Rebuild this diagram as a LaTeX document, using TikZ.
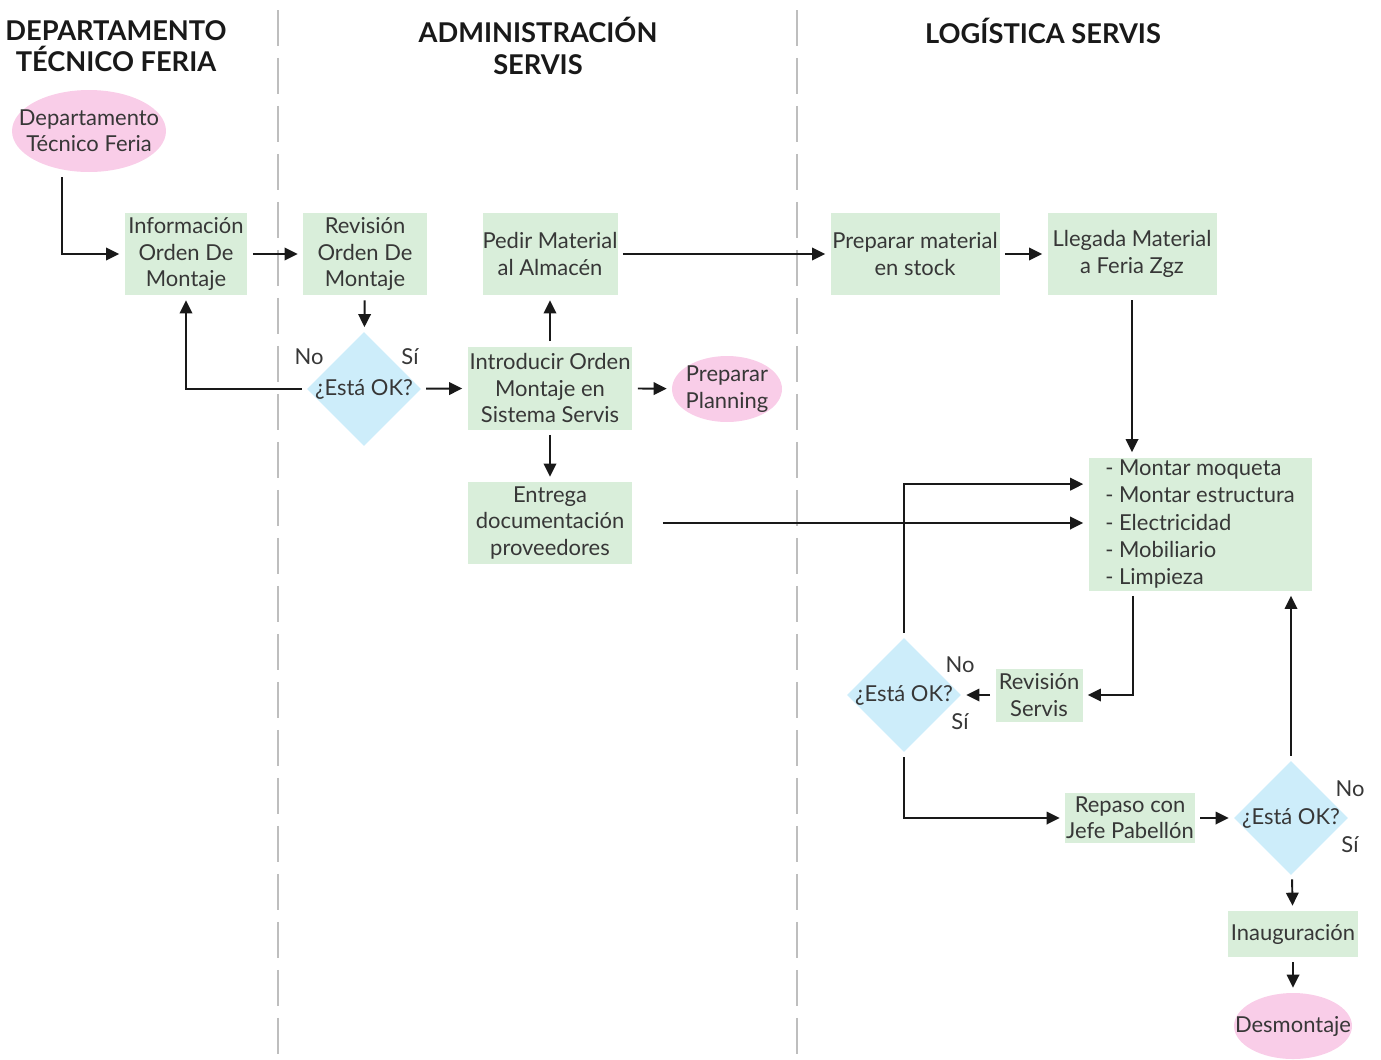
\documentclass[tikz,border=0pt]{standalone}
\usepackage{fontspec}
\setmainfont{Lato}
\usetikzlibrary{shapes.geometric,arrows.meta,calc}
\definecolor{boxgreen}{RGB}{217,238,218}
\definecolor{endpink}{RGB}{249,205,232}
\definecolor{askblue}{RGB}{205,237,250}
\definecolor{txtgray}{RGB}{55,55,55}
\definecolor{lanegray}{RGB}{190,190,190}

\begin{document}
\begin{tikzpicture}[x=0.02cm, y=-0.02cm,
    box/.style={rectangle, fill=boxgreen, align=center, inner sep=0pt, minimum height=1.64cm, font=\fontsize{12.5}{15}\selectfont, text=txtgray},
    terminal/.style={ellipse, fill=endpink, align=center, inner sep=-1cm, font=\fontsize{12.5}{15}\selectfont, text=txtgray},
    decision/.style={diamond, fill=askblue, aspect=1, inner sep=-0.1cm, minimum width=2.28cm, minimum height=2.28cm, font=\fontsize{12.5}{15}\selectfont, text=txtgray},
    lbl/.style={font=\fontsize{12.5}{15}\selectfont, text=txtgray},
    header/.style={align=center, font=\bfseries\fontsize{15.5}{18}\selectfont, text=black!90},
    lane/.style={lanegray, line width=1.2pt, dash pattern=on 0.72cm off 0.24cm},
    arrow/.style={-{Triangle[length=0.26cm, width=0.25cm]}, line width=1.1pt, black!90, shorten >=0.1cm, shorten <=0.1cm}
  ]
    \useasboundingbox (0,0) rectangle (1381,1059);

    % swimlanes
    \draw[lane] (278,10) -- (278,1059);
    \draw[lane] (797,10) -- (797,1059);

    \node[header] at (116,46)  (hdtf)  {DEPARTAMENTO\\TÉCNICO FERIA};
    \node[header] at (538,46)  (hadm)  {ADMINISTRACIÓN\\SERVIS};
    \node[header] at (1043,31) (hlog)  {LOGÍSTICA SERVIS};

    % departamento tecnico
    \node[terminal, minimum width=3.08cm, minimum height=1.64cm] at (89,131) (dtf) {Departamento\\Técnico Feria};
    \node[box, minimum width=2.46cm] at (186,254) (info) {Información\\Orden De\\Montaje};

    % administracion
    \node[box, minimum width=2.48cm] at (365,254) (revision) {Revisión\\Orden De\\Montaje};
    \node[decision] at (364,389) (ok1) {¿Está OK?};
    \node[lbl] at (309,357) (no1) {No};
    \node[lbl] at (410,357) (si1) {Sí};
    \node[box, minimum width=2.66cm] at (550,254) (pedir) {Pedir Material\\al Almacén};
    \node[box, minimum width=3.3cm, minimum height=1.66cm] at (550,388) (intro) {Introducir Orden\\Montaje en\\Sistema Servis};
    \node[terminal, minimum width=2.2cm, minimum height=1.32cm] at (727,389) (planning) {Preparar\\Planning};
    \node[box, minimum width=3.3cm] at (550,523) (entrega) {Entrega\\documentación\\proveedores};

    % logistica
    \node[box, minimum width=3.38cm] at (915,254) (stock) {Preparar material\\en stock};
    \node[box, minimum width=3.38cm] at (1132,254) (llegada) {Llegada Material\\a Feria Zgz};
    \node[box, align=left, minimum width=4.46cm, minimum height=2.66cm, font=\fontsize{12.5}{15.5}\selectfont] at (1200,524) (montar)
      {- Montar moqueta\\- Montar estructura\\- Electricidad\\- Mobiliario\\- Limpieza};
    \node[box, minimum width=1.74cm, minimum height=1.06cm] at (1039,695) (revservis) {Revisión\\Servis};
    \node[decision] at (904,695) (ok2) {¿Está OK?};
    \node[lbl] at (960,665) (no2) {No};
    \node[lbl] at (960,722) (si2) {Sí};
    \node[box, minimum width=2.6cm, minimum height=1.0cm] at (1130,818) (repaso) {Repaso con\\Jefe Pabellón};
    \node[decision] at (1291,818) (ok3) {¿Está OK?};
    \node[lbl] at (1350,789) (no3) {No};
    \node[lbl] at (1350,845) (si3) {Sí};
    \node[box, minimum width=2.6cm, minimum height=0.92cm] at (1293,934) (inaug) {Inauguración};
    \node[terminal, minimum width=2.36cm, minimum height=1.32cm] at (1293,1026) (desmontaje) {Desmontaje};

    \draw[arrow] ($(dtf.south)+(-27,0)$) |- (info.west);
    \draw[arrow] (info) -- (revision);
    \draw[arrow] (revision) -- (ok1);
    \draw[arrow] (ok1.west) -| (info.south);
    \draw[arrow] (ok1) -- (intro);
    \draw[arrow] (intro) -- (pedir);
    \draw[arrow] (intro) -- (planning);
    \draw[arrow] (intro) -- (entrega);
    \draw[arrow] (pedir) -- (stock);
    \draw[arrow] (stock) -- (llegada);
    \draw[arrow] (llegada.south) -- (llegada.south |- montar.north);
    \draw[arrow, shorten <=0.6cm] (entrega.east) -- (entrega.east -| montar.west);
    \draw[arrow] (ok2.north) |- ($(montar.north west)+(0,27)$);
    \draw[arrow] ($(montar.south west)+(45,0)$) |- (revservis.east);
    \draw[arrow] (revservis) -- (ok2);
    \draw[arrow] (ok2.south) |- (repaso.west);
    \draw[arrow] (repaso) -- (ok3);
    \draw[arrow] (ok3.north) -- (ok3.north |- montar.south);
    \draw[arrow] (ok3) -- (inaug);
    \draw[arrow] (inaug) -- (desmontaje);
  \end{tikzpicture}
\end{document}
